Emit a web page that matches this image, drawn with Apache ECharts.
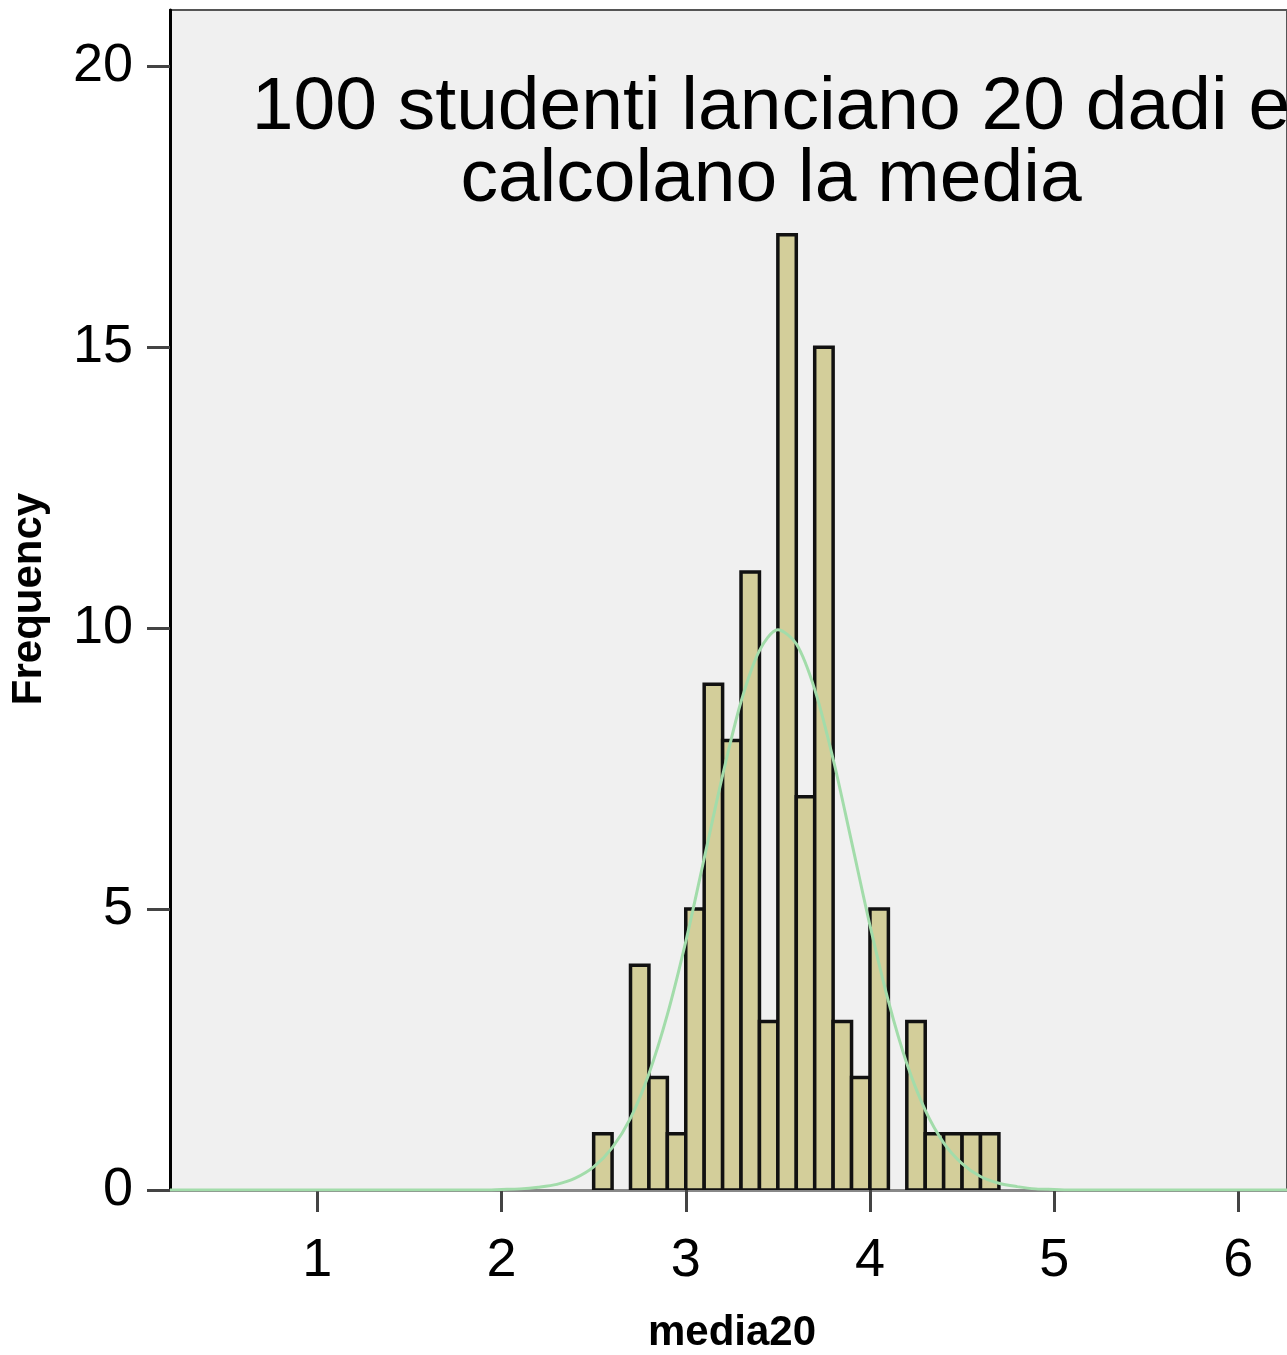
<!DOCTYPE html>
<html>
<head>
<meta charset="utf-8">
<script src="https://cdn.jsdelivr.net/npm/echarts@6/dist/echarts.min.js"></script>
<style>
  html, body { margin: 0; padding: 0; background: #ffffff; }
  #chart { width: 1287px; height: 1355px; }
</style>
</head>
<body>
<div id="chart"></div>
<script>
// Histogram bins (width 0.1) and frequencies
var binStarts = [2.5, 2.6, 2.7, 2.8, 2.9, 3.0, 3.1, 3.2, 3.3, 3.4, 3.5, 3.6, 3.7, 3.8, 3.9, 4.0, 4.1, 4.2, 4.3, 4.4, 4.5, 4.6];
var binWidth = 0.1;
var counts =    [1,   0,   4,   2,   1,   5,   9,   8,   11,  3,   17,  7,   15,  3,   2,   5,   0,   3,   1,   1,   1,   1];

// Fitted normal curve
var curveX = [0.2, 1.9, 2.0, 2.1, 2.2, 2.3, 2.4, 2.5, 2.6, 2.7, 2.8, 2.9, 3.0, 3.1, 3.2, 3.3, 3.4, 3.5, 3.6, 3.7, 3.8, 3.9, 4.0, 4.1, 4.2, 4.3, 4.4, 4.5, 4.6, 4.7, 4.8, 4.9, 5.0, 5.1, 6.4];
var curveY = [0,   0,   0.01, 0.02, 0.05, 0.10, 0.21, 0.41, 0.75, 1.28, 2.07, 3.12, 4.42, 5.90, 7.38, 8.69, 9.60, 9.97, 9.72, 8.91, 7.67, 6.20, 4.71, 3.36, 2.25, 1.42, 0.84, 0.47, 0.24, 0.12, 0.06, 0.02, 0.01, 0,   0];

var xTicks = [1, 2, 3, 4, 5, 6];
var yTicks = [0, 5, 10, 15, 20];

var titleText = '100 studenti lanciano 20 dadi e\ncalcolano la media';
var xName = 'media20';
var yName = 'Frequency';

var barData = binStarts.map(function (s, i) { return [s, s + binWidth, counts[i]]; });
var curveData = curveX.map(function (x, i) { return [x, curveY[i]]; });

var chart = echarts.init(document.getElementById('chart'), null, { renderer: 'canvas' });
var FONT = '"Liberation Sans", Arial, sans-serif';

chart.setOption({
  backgroundColor: '#ffffff',
  animation: false,
  grid: {
    left: 170, top: 10, right: 0, bottom: 165,
    show: true,
    backgroundColor: '#f0f0f0',
    borderColor: '#555555',
    borderWidth: 2
  },
  xAxis: {
    type: 'value',
    min: 0.2,
    max: 6.264,
    splitLine: { show: false },
    axisLine: { show: true, lineStyle: { color: '#888888', width: 3 } },
    axisTick: { show: true, customValues: xTicks, length: 22, lineStyle: { color: '#444444', width: 3 } },
    axisLabel: { customValues: xTicks, color: '#000', fontFamily: FONT, fontSize: 54, margin: 44 }
  },
  yAxis: {
    type: 'value',
    min: 0,
    max: 21,
    splitLine: { show: false },
    axisLine: { show: true, lineStyle: { color: '#000000', width: 3 } },
    axisTick: { show: true, customValues: yTicks, length: 23, lineStyle: { color: '#444444', width: 3 } },
    axisLabel: { customValues: yTicks, color: '#000', fontFamily: FONT, fontSize: 54, margin: 37 }
  },
  series: [
    {
      type: 'custom',
      data: barData,
      z: 2,
      clip: true,
      renderItem: function (params, api) {
        var p0 = api.coord([api.value(0), api.value(2)]);
        var p1 = api.coord([api.value(1), 0]);
        if (api.value(2) <= 0) return null;
        return {
          type: 'rect',
          shape: { x: p0[0], y: p0[1], width: p1[0] - p0[0], height: p1[1] - p0[1] },
          style: { fill: '#d3ce9a', stroke: '#111111', lineWidth: 3.5 }
        };
      }
    },
    {
      type: 'line',
      data: curveData,
      smooth: 0.3,
      showSymbol: false,
      z: 3,
      clip: true,
      lineStyle: { color: '#a2dcaa', width: 3 }
    }
  ],
  graphic: [
    {
      type: 'text', x: 771, y: 72, z: 10,
      style: {
        text: titleText, fill: '#000', font: '75px ' + FONT,
        align: 'center', verticalAlign: 'top', lineHeight: 72
      }
    },
    {
      type: 'text', x: 29, y: 599, rotation: Math.PI / 2, z: 10,
      style: {
        text: yName, fill: '#000', font: 'bold 42px ' + FONT,
        align: 'center', verticalAlign: 'middle'
      }
    },
    {
      type: 'text', x: 732, y: 1333, z: 10,
      style: {
        text: xName, fill: '#000', font: 'bold 42px ' + FONT,
        align: 'center', verticalAlign: 'middle'
      }
    }
  ]
});
</script>
</body>
</html>
